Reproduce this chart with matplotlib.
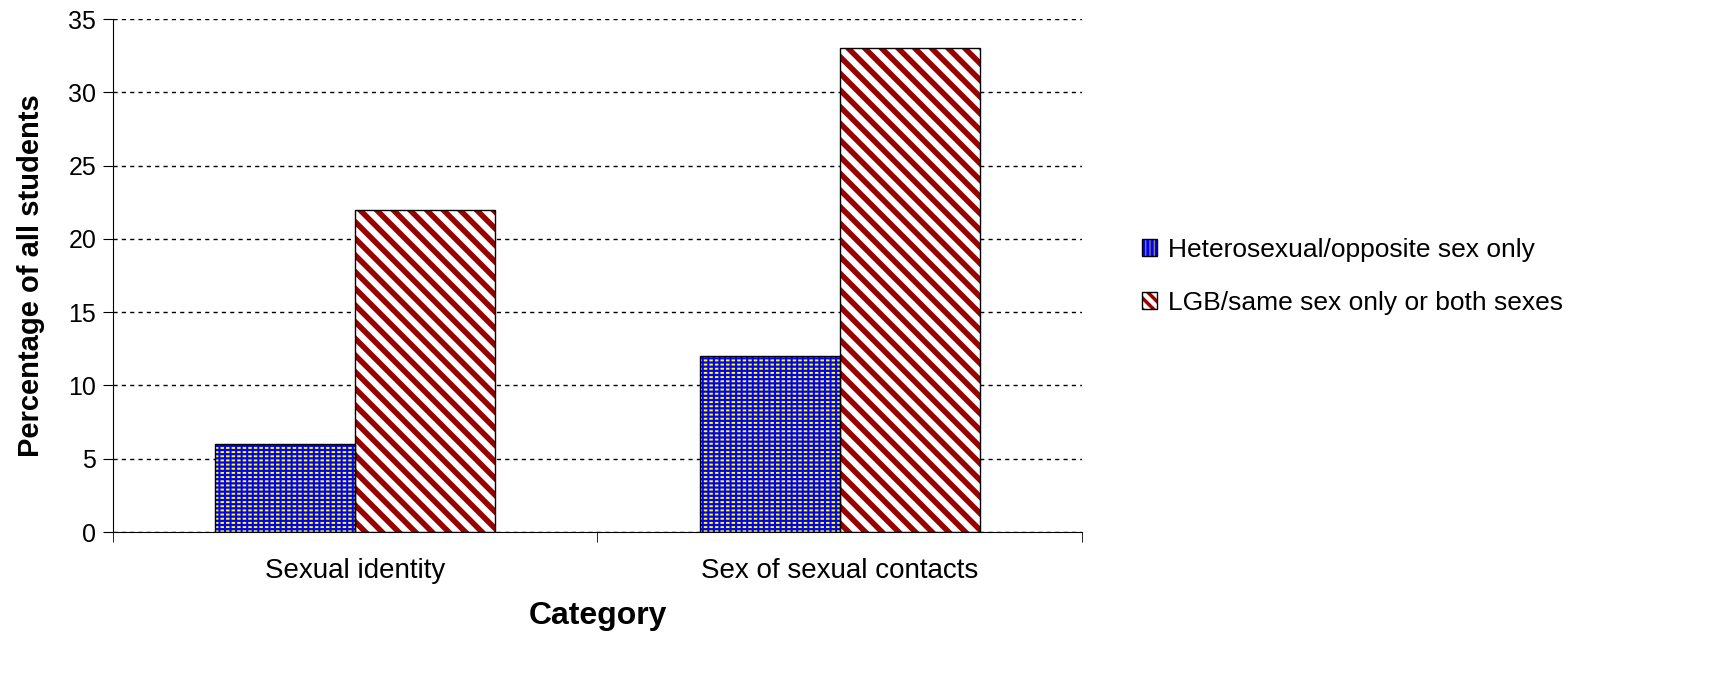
import numpy as np
import matplotlib
matplotlib.use('agg')
import matplotlib.pyplot as plt
from matplotlib.patches import Patch
from matplotlib.legend_handler import HandlerTuple

categories = ['Sexual identity', 'Sex of sexual contacts']
series = ['Heterosexual/opposite sex only', 'LGB/same sex only or both sexes']
hetero = [6, 12]
lgb = [22, 33]
yticks = [0, 5, 10, 15, 20, 25, 30, 35]

plt.rcParams['font.family'] = ['Liberation Sans', 'DejaVu Sans']

fig = plt.figure(figsize=(17.09, 6.87), dpi=100)
ax = fig.add_axes([0.0661, 0.2256, 0.5670, 0.7467])

x = np.arange(len(categories))
w = 0.289

# blue bars with yellow dash texture
plt.rcParams['hatch.linewidth'] = 1.4
ax.bar(x - w/2, hetero, w, color='#0000ff', edgecolor='#ffff00', hatch='----', linewidth=0, zorder=2)
plt.rcParams['hatch.linewidth'] = 1.5
ax.bar(x - w/2, hetero, w, fill=False, edgecolor='#0000ff', hatch='|||', linewidth=0, zorder=3)
# red striped bars
plt.rcParams['hatch.linewidth'] = 4.0
ax.bar(x + w/2, lgb, w, color='white', edgecolor='#990000', hatch='\\\\', linewidth=0, zorder=2)
# outlines
ax.bar(x - w/2, hetero, w, fill=False, edgecolor='black', linewidth=1, zorder=4)
ax.bar(x + w/2, lgb, w, fill=False, edgecolor='black', linewidth=1, zorder=4)

ax.set_xlim(-0.5, 1.5)
ax.set_ylim(0, 35)
ax.set_yticks(yticks)
ax.set_xticks(x)
ax.set_xticklabels(categories)
ax.set_xticks([-0.5, 0.5, 1.5], minor=True)
ax.tick_params(axis='x', which='major', length=0, pad=19, labelsize=20)
ax.tick_params(axis='x', which='minor', length=7, direction='out', color='black')
ax.tick_params(axis='y', length=7, direction='out', labelsize=18, pad=5)
for s in ['top', 'right']:
    ax.spines[s].set_visible(False)
ax.grid(axis='y', color='black', linestyle=(0, (3, 3)), linewidth=1, zorder=1)
ax.set_axisbelow(True)

ax.set_ylabel('Percentage of all students', fontsize=21, fontweight='bold', labelpad=17)
ax.set_xlabel('Category', fontsize=23, fontweight='bold', labelpad=12)

plt.rcParams['hatch.linewidth'] = 1.0
h1 = (Patch(facecolor='#0000ff', edgecolor='#ffff00', hatch='-----', linewidth=0),
      Patch(fill=False, edgecolor='#0000ff', hatch='||||', linewidth=0),
      Patch(fill=False, edgecolor='black', linewidth=1))
plt.rcParams['hatch.linewidth'] = 2.5
h2 = (Patch(facecolor='white', edgecolor='#990000', hatch='\\\\\\', linewidth=0),
      Patch(fill=False, edgecolor='black', linewidth=1))
fig.legend([h1, h2], series, handler_map={tuple: HandlerTuple(ndivide=1, pad=0)},
           loc='center left', bbox_to_anchor=(0.668, 0.598), frameon=False,
           borderpad=0, borderaxespad=0,
           fontsize=19, handlelength=0.6, handleheight=0.6, handletextpad=0.4,
           labelspacing=1.1)

fig.savefig('out.png', dpi=100)
